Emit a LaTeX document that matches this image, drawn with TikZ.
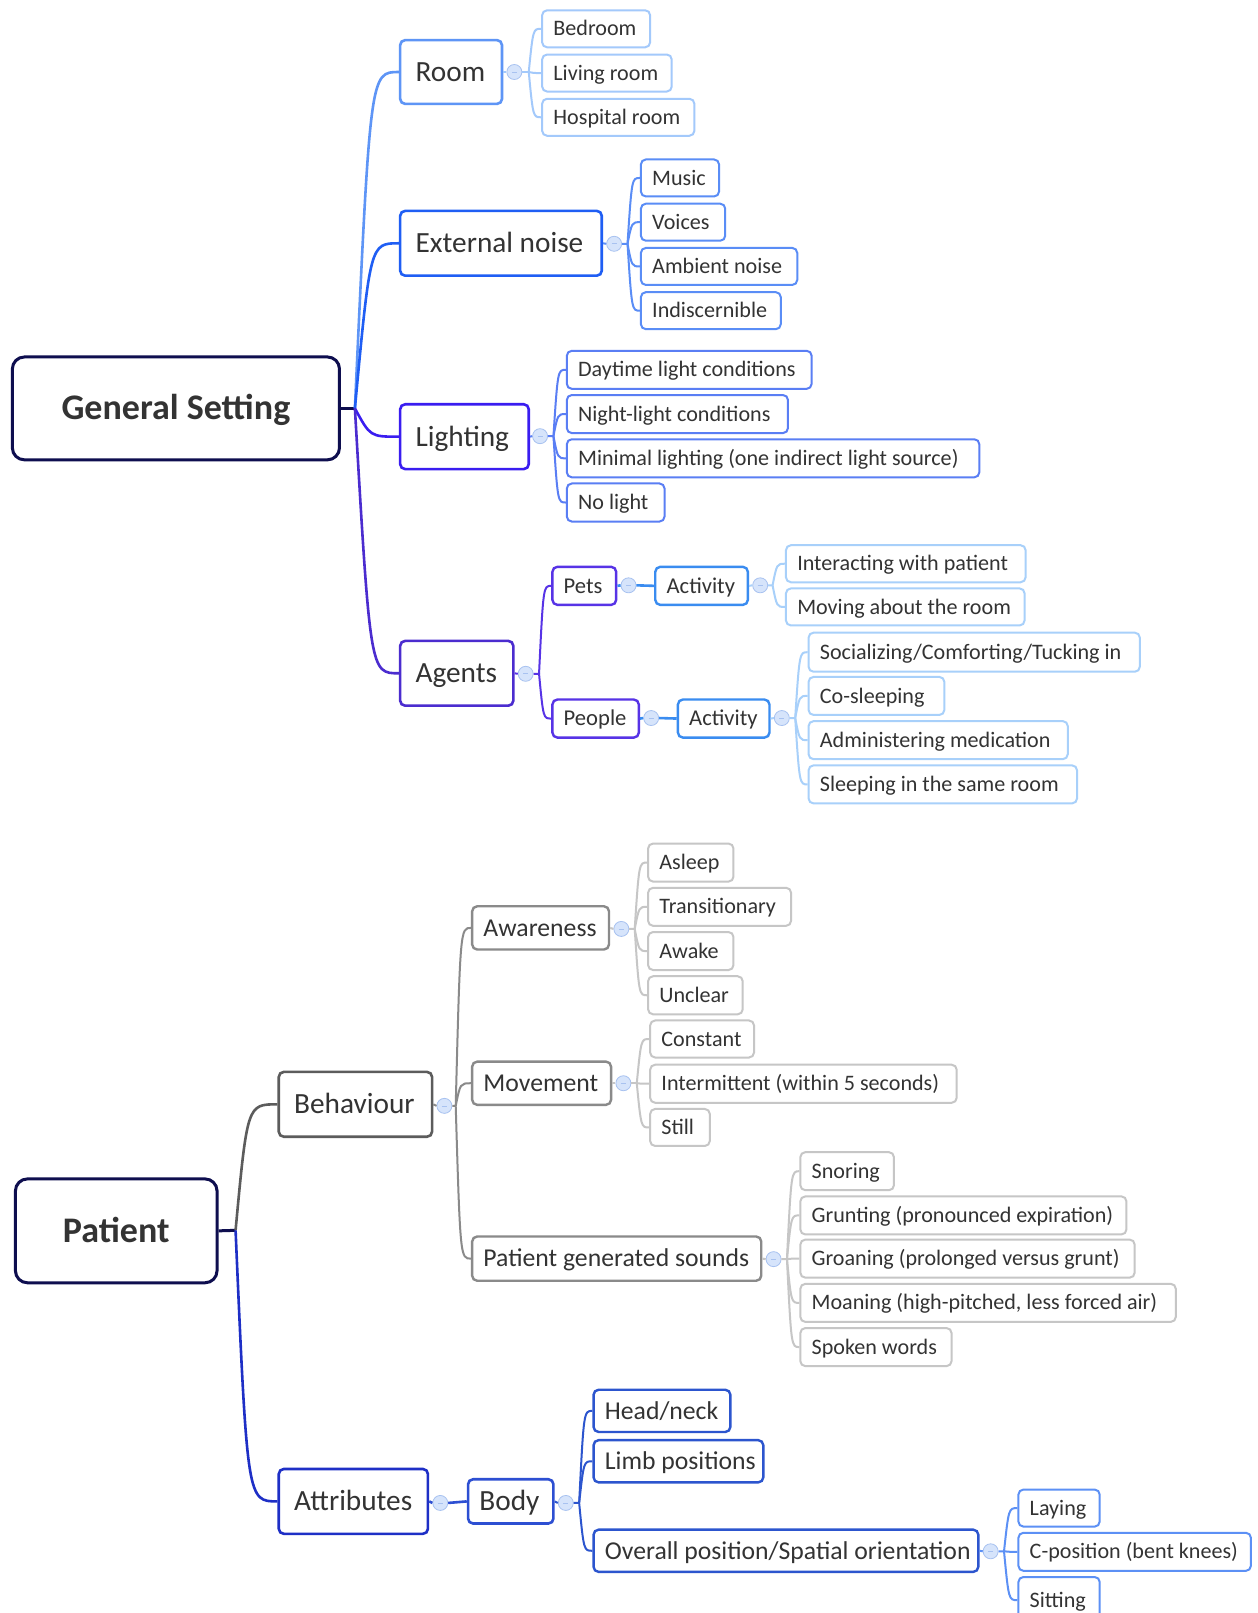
\documentclass[tikz,border=0pt]{standalone}
\usepackage{fontspec}
\setmainfont{Carlito}
\usetikzlibrary{calc}
\newcommand\pxs{1.0286}
\def\padx{11}
\definecolor{txt}{HTML}{333333}
\definecolor{navy}{HTML}{0E0E4F}
\definecolor{roomC}{HTML}{5E95F6}
\definecolor{roomL}{HTML}{A3C9FB}
\definecolor{extC}{HTML}{1F5EF4}
\definecolor{extL}{HTML}{5A8DF6}
\definecolor{lightC}{HTML}{3A1DF0}
\definecolor{lightL}{HTML}{5A7EF4}
\definecolor{agentC}{HTML}{4B2CCF}
\definecolor{petC}{HTML}{5733E6}
\definecolor{actC}{HTML}{3A8CF0}
\definecolor{agentL}{HTML}{A8D0FA}
\definecolor{behC}{HTML}{5C5C5C}
\definecolor{awC}{HTML}{8A8A8A}
\definecolor{awL}{HTML}{C6C6C6}
\definecolor{attrC}{HTML}{1E2FC6}
\definecolor{bodyC}{HTML}{2D4FD2}
\definecolor{bodyL}{HTML}{2C55CE}
\definecolor{posL}{HTML}{5C90F5}
\definecolor{colF}{HTML}{D6E4FB}
\definecolor{colB}{HTML}{A8C2F0}
\tikzset{
  bxc/.style n args={4}{minimum width={(#3-#1)*\pxs pt}, minimum height={(#4-#2)*\pxs pt}, at={({(#1+#3)/2},{(#2+#4)/2})}},
  bx/.style n args={4}{bxc={#1}{#2}{#3}{#4}, text width={(#3-#1-2*\padx)*\pxs pt},
    execute at begin node={\spaceskip=0pt\relax\xspaceskip=0pt\relax\hbox\bgroup}, execute at end node={\egroup}},
  base/.style={draw, rounded corners=5pt, fill=white, text=txt, inner sep=0pt},
  root/.style={base, draw=navy, line width=3pt, rounded corners=12pt, font=\bfseries\fontsize{36}{40}\selectfont, text height=27.2pt, text depth=4pt},
  cat/.style={base, line width=2.6pt, font=\fontsize{29.3}{33}\selectfont, text height=22.9pt, text depth=4pt, /utils/exec={\def\padx{15}}},
  catb/.style={base, line width=2.6pt, font=\fontsize{29.3}{33}\selectfont, text height=22.9pt, text depth=4pt, /utils/exec={\def\padx{11}}},
  mid/.style={base, line width=2.4pt, font=\fontsize{25.7}{29}\selectfont, text height=20.6pt, text depth=4pt, /utils/exec={\def\padx{11}}},
  sml/.style={base, line width=2.4pt, font=\fontsize{22.6}{26}\selectfont, text height=18.6pt, text depth=4pt, /utils/exec={\def\padx{11}}},
  leaf/.style={base, line width=2pt, font=\fontsize{22.1}{25}\selectfont, text height=18.2pt, text depth=4pt, /utils/exec={\def\padx{11}}},
  col/.style={circle, draw=colB, fill=colF, line width=0.8pt, minimum size=15pt, inner sep=0pt,
    path picture={\draw[colB, line width=0.7pt] ([xshift=-2.5pt]path picture bounding box.center) -- ([xshift=2.5pt]path picture bounding box.center);}},
  lk/.style={line width=2pt},
  tk/.style={line width=2.6pt},
}
% curved connector from a junction to a child node's west side
\newcommand\mmlink[4][0.35]{%
  \path ($(#3)!#1!(#4.west)$) coordinate (ctl);
  \draw[#2] (#3) .. controls (ctl |- #4.west) .. (#4.west);}
\begin{document}
\begin{tikzpicture}[x=1.0286pt,y=-1.0286pt]
\useasboundingbox[fill=white] (0,0) rectangle (1222,1568);

% ---------- General Setting ----------
\node[root, bxc={12}{347}{330}{447}] (gs) {General Setting};
\coordinate (gsJ) at (345,397);

\node[cat, draw=roomC, bx={389}{39}{488}{101}] (room) {Room};
\node[col] (roomK) at (500,70) {};
\coordinate (roomJ) at (514,70);
\node[leaf, draw=roomL, bx={527}{10}{632}{46}] (bed) {Bedroom};
\node[leaf, draw=roomL, bx={527}{53}{653}{89}] (liv) {Living room};
\node[leaf, draw=roomL, bx={527}{96}{675}{132}] (hosp) {Hospital room};

\node[cat, draw=extC, bx={389}{205}{585}{268}] (ext) {External noise};
\node[col] (extK) at (597,237) {};
\coordinate (extJ) at (610,237);
\node[leaf, draw=extL, bx={623}{155}{699}{191}] (music) {Music};
\node[leaf, draw=extL, bx={623}{198}{705}{234}] (voices) {Voices};
\node[leaf, draw=extL, bx={623}{241}{775}{277}] (ambient) {Ambient noise};
\node[leaf, draw=extL, bx={623}{284}{759}{320}] (indis) {Indiscernible};

\node[cat, draw=lightC, bx={389}{393}{514}{456}] (light) {Lighting};
\node[col] (lightK) at (525,424) {};
\coordinate (lightJ) at (538,424);
\node[leaf, draw=lightL, bx={551}{341}{789}{378}] (day) {Daytime light conditions};
\node[leaf, draw=lightL, bx={551}{384}{766}{421}] (night) {Night-light conditions};
\node[leaf, draw=lightL, bx={551}{427}{952}{464}] (minimal) {Minimal lighting (one indirect light source)};
\node[leaf, draw=lightL, bx={551}{470}{646}{507}] (nolight) {No light};

\node[cat, draw=agentC, bx={389}{623}{499}{686}] (agents) {Agents};
\node[col] (agentsK) at (511,655) {};
\coordinate (agentsJ) at (524,655);
\node[sml, draw=petC, bx={537}{551}{599}{588}] (pets) {Pets};
\node[col] (petsK) at (611,569) {};
\node[sml, draw=actC, bx={637}{551}{727}{588}] (act1) {Activity};
\node[col] (act1K) at (739,569) {};
\coordinate (act1J) at (751,569);
\node[leaf, draw=agentL, bx={764}{530}{997}{566}] (inter) {Interacting with patient};
\node[leaf, draw=agentL, bx={764}{572}{996}{608}] (moving) {Moving about the room};
\node[sml, draw=petC, bx={537}{680}{621}{717}] (people) {People};
\node[col] (peopleK) at (633,698) {};
\node[sml, draw=actC, bx={659}{680}{748}{717}] (act2) {Activity};
\node[col] (act2K) at (760,698) {};
\coordinate (act2J) at (773,698);
\node[leaf, draw=agentL, bx={786}{615}{1108}{653}] (social) {Socializing/Comforting/Tucking in};
\node[leaf, draw=agentL, bx={786}{658}{918}{695}] (cosleep) {Co-sleeping};
\node[leaf, draw=agentL, bx={786}{701}{1038}{738}] (admin) {Administering medication};
\node[leaf, draw=agentL, bx={786}{744}{1047}{781}] (sleepr) {Sleeping in the same room};

% ---------- Patient ----------
\node[root, bxc={15}{1146}{211}{1247}] (patient) {Patient};
\coordinate (patJ) at (229,1196);

\node[cat, draw=behC, bx={271}{1042}{420}{1105}] (beh) {Behaviour};
\node[col] (behK) at (432,1075) {};
\coordinate (behJ) at (443,1075);

\node[mid, draw=awC, bx={459}{881}{592}{923}] (aware) {Awareness};
\node[col] (awareK) at (604,903) {};
\coordinate (awareJ) at (617,903);
\node[leaf, draw=awL, bx={630}{820}{713}{857}] (asleep) {Asleep};
\node[leaf, draw=awL, bx={630}{863}{769}{900}] (trans) {Transitionary};
\node[leaf, draw=awL, bx={630}{906}{713}{943}] (awake) {Awake};
\node[leaf, draw=awL, bx={630}{949}{722}{986}] (unclear) {Unclear};

\node[mid, draw=awC, bx={459}{1032}{594}{1074}] (move) {Movement};
\node[col] (moveK) at (606,1053) {};
\coordinate (moveJ) at (619,1053);
\node[leaf, draw=awL, bx={632}{992}{733}{1028}] (const) {Constant};
\node[leaf, draw=awL, bx={632}{1035}{930}{1072}] (interm) {Intermittent (within 5 seconds)};
\node[leaf, draw=awL, bx={632}{1078}{690}{1114}] (still) {Still};

\node[mid, draw=awC, bx={459}{1202}{740}{1245}] (pgs) {Patient generated sounds};
\node[col] (pgsK) at (752,1224) {};
\coordinate (pgsJ) at (765,1224);
\node[leaf, draw=awL, bx={778}{1120}{869}{1157}] (snore) {Snoring};
\node[leaf, draw=awL, bx={778}{1163}{1095}{1200}] (grunt) {Grunting (pronounced expiration)};
\node[leaf, draw=awL, bx={778}{1205}{1103}{1242}] (groan) {Groaning (prolonged versus grunt)};
\node[leaf, draw=awL, bx={778}{1248}{1143}{1285}] (moan) {Moaning (high-pitched, less forced air)};
\node[leaf, draw=awL, bx={778}{1291}{925}{1328}] (spoken) {Spoken words};

\node[cat, draw=attrC, bx={271}{1428}{416}{1491}] (attr) {Attributes};
\node[col] (attrK) at (428,1461) {};
\node[catb, draw=bodyC, bx={455}{1438}{538}{1481}] (body) {Body};
\node[col] (bodyK) at (550,1461) {};
\coordinate (bodyJ) at (563,1461);
\node[mid, draw=bodyL, bx={577}{1351}{710}{1392}] (head) {Head/neck};
\node[mid, draw=bodyL, bx={577}{1400}{742}{1441}] (limb) {Limb positions};
\node[mid, draw=bodyL, bx={577}{1487}{951}{1528}] (overall) {Overall position/Spatial orientation};
\node[col] (overallK) at (963,1508) {};
\coordinate (overallJ) at (976,1508);
\node[leaf, draw=posL, bx={990}{1448}{1069}{1484}] (laying) {Laying};
\node[leaf, draw=posL, bx={990}{1490}{1216}{1527}] (cpos) {C-position (bent knees)};
\node[leaf, draw=posL, bx={990}{1533}{1069}{1578}] (sitting) {Sitting};

% ---------- connectors ----------
\draw[navy, line width=3pt] (gs.east) -- (gsJ);
\mmlink{tk, roomC}{gsJ}{room}
\mmlink{tk, extC}{gsJ}{ext}
\mmlink{tk, lightC}{gsJ}{light}
\mmlink{tk, agentC}{gsJ}{agents}

\draw[lk, roomL] (room.east) -- (roomK.west) (roomK.east) -- (roomJ);
\foreach \c in {bed,liv,hosp} {\mmlink{lk, roomL}{roomJ}{\c}}
\draw[lk, extL] (ext.east) -- (extK.west) (extK.east) -- (extJ);
\foreach \c in {music,voices,ambient,indis} {\mmlink{lk, extL}{extJ}{\c}}
\draw[lk, lightL] (light.east) -- (lightK.west) (lightK.east) -- (lightJ);
\foreach \c in {day,night,minimal,nolight} {\mmlink{lk, lightL}{lightJ}{\c}}
\draw[lk, petC] (agents.east) -- (agentsK.west) (agentsK.east) -- (agentsJ);
\foreach \c in {pets,people} {\mmlink{lk, petC}{agentsJ}{\c}}
\draw[tk, actC] (pets.east) -- (petsK.west) (petsK.east) -- (act1.west);
\draw[tk, actC] (people.east) -- (peopleK.west) (peopleK.east) -- (act2.west);
\draw[lk, agentL] (act1.east) -- (act1K.west) (act1K.east) -- (act1J);
\foreach \c in {inter,moving} {\mmlink{lk, agentL}{act1J}{\c}}
\draw[lk, agentL] (act2.east) -- (act2K.west) (act2K.east) -- (act2J);
\foreach \c in {social,cosleep,admin,sleepr} {\mmlink{lk, agentL}{act2J}{\c}}

\draw[navy, line width=3pt] (patient.east) -- (patJ);
\mmlink[0.28]{tk, behC}{patJ}{beh}
\mmlink[0.28]{tk, attrC}{patJ}{attr}
\draw[lk, awC] (beh.east) -- (behK.west) (behK.east) -- (behJ);
\foreach \c in {aware,move,pgs} {\mmlink[0.3]{lk, awC}{behJ}{\c}}
\draw[lk, awL] (aware.east) -- (awareK.west) (awareK.east) -- (awareJ);
\foreach \c in {asleep,trans,awake,unclear} {\mmlink{lk, awL}{awareJ}{\c}}
\draw[lk, awL] (move.east) -- (moveK.west) (moveK.east) -- (moveJ);
\foreach \c in {const,interm,still} {\mmlink{lk, awL}{moveJ}{\c}}
\draw[lk, awL] (pgs.east) -- (pgsK.west) (pgsK.east) -- (pgsJ);
\foreach \c in {snore,grunt,groan,moan,spoken} {\mmlink{lk, awL}{pgsJ}{\c}}
\draw[tk, bodyC] (attr.east) -- (attrK.west) (attrK.east) -- (body.west);
\draw[lk, bodyL] (body.east) -- (bodyK.west) (bodyK.east) -- (bodyJ);
\foreach \c in {head,limb,overall} {\mmlink{lk, bodyL}{bodyJ}{\c}}
\draw[lk, posL] (overall.east) -- (overallK.west) (overallK.east) -- (overallJ);
\foreach \c in {laying,cpos,sitting} {\mmlink{lk, posL}{overallJ}{\c}}
\end{tikzpicture}
\end{document}
